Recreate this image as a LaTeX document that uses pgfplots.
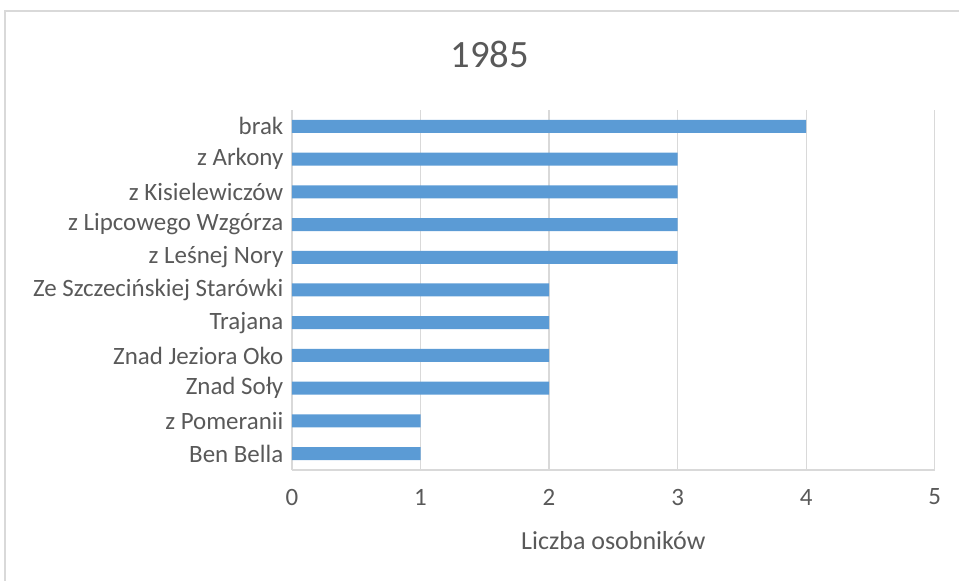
\documentclass[border=0pt]{standalone}
\usepackage{pgfplots}
\pgfplotsset{compat=1.18}
\usepackage{fontspec}
\setmainfont{Carlito}
\definecolor{barblue}{HTML}{5B9BD5}
\definecolor{gridgray}{HTML}{D9D9D9}
\definecolor{txtgray}{HTML}{595959}
\begin{document}
\begin{tikzpicture}[x=0.75pt,y=0.75pt]
\useasboundingbox (-292,-111) rectangle (667,470);
\draw[gridgray,line width=0.9pt] (-287,-111) -- (-287,459) -- (667,459);
\begin{axis}[
  at={(0,0)}, anchor=south west,
  scale only axis, width=482pt, height=270pt,
  xmin=0, xmax=5, ymin=-0.5, ymax=10.5,
  xtick={0,1,2,3,4,5},
  ytick={0,...,10},
  yticklabels={Ben Bella,z Pomeranii,Znad Soły,Znad Jeziora Oko,Trajana,Ze Szczecińskiej Starówki,z Leśnej Nory,z Lipcowego Wzgórza,z Kisielewiczów,z Arkony,brak},
  major tick length=0pt,
  xmajorgrids, grid style={gridgray,line width=0.9pt},
  axis line style={gridgray,line width=0.9pt},
  axis x line*=bottom, axis y line*=left,
  /pgf/number format/assume math mode=true,
  tick label style={font=\fontsize{18.7}{21}\selectfont,text=txtgray},
  xticklabel style={anchor=center,yshift=-20.25pt},
  yticklabel style={xshift=-3pt},
  xlabel={Liczba osobników},
  xlabel style={font=\fontsize{19.5}{22}\selectfont,text=txtgray,at={(0.5,0)},anchor=center,yshift=-53.25pt},
  title={1985},
  title style={font=\fontsize{29}{32}\selectfont,text=txtgray,at={(0.308,1)},anchor=center,yshift=36pt},
  xbar, bar width=9.75pt,
]
\addplot[draw=none,fill=barblue] coordinates {
  (1,0) (1,1) (2,2) (2,3) (2,4) (2,5) (3,6) (3,7) (3,8) (3,9) (4,10)};
\end{axis}
\end{tikzpicture}
\end{document}
